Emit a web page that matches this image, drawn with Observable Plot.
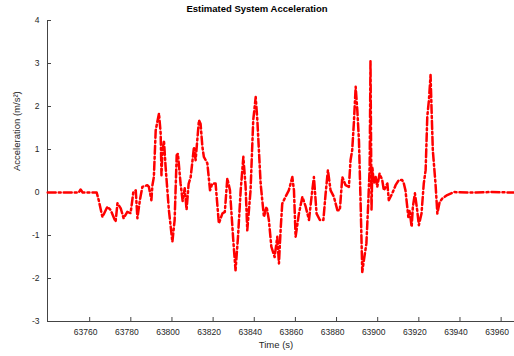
<!DOCTYPE html>
<html><head><meta charset="utf-8">
<script src="https://cdn.jsdelivr.net/npm/d3@7"></script>
<script src="https://cdn.jsdelivr.net/npm/@observablehq/plot@0.6"></script>
<style>
body{margin:0;background:#fff;}
#wrap{position:relative;width:514px;height:356px;}
#title{position:absolute;top:3px;left:0;width:514px;text-align:center;font:bold 9.5px "Liberation Sans",Arial,sans-serif;color:#000;}
</style>
</head><body><div id="wrap"><div id="title"></div></div>
<script>
const title = "Estimated System Acceleration";
const xLabel = "Time (s)";
const yLabel = "Acceleration (m/s²)";
const xDomain = [63739.5, 63966.5];
const yDomain = [-3, 4];
const xTicks = [63760, 63780, 63800, 63820, 63840, 63860, 63880, 63900, 63920, 63940, 63960];
const yTicks = [-3, -2, -1, 0, 1, 2, 3, 4];

const time = [
 63739.6, 63754.7, 63755.6, 63756.6, 63763.4, 63764.4, 63766.2, 63768.6, 63770.2, 63772.6,
 63773.5, 63775.1, 63776.5, 63778.3, 63779.9, 63781.2, 63782.4, 63783.2, 63784.4, 63785.6,
 63788.0, 63788.8, 63790.0, 63790.5, 63791.2, 63792.1, 63793.7, 63794.5, 63794.9, 63795.3,
 63796.1, 63796.9, 63798.5, 63800.2, 63801.3, 63802.3, 63802.9, 63804.2, 63805.2, 63806.2,
 63807.1, 63808.1, 63809.1, 63810.7, 63811.5, 63813.1, 63813.9, 63814.8, 63815.5, 63817.2,
 63818.5, 63819.6, 63821.2, 63822.8, 63824.5, 63825.7, 63826.9, 63828.2, 63829.8, 63830.9,
 63832.1, 63833.4, 63834.7, 63835.8, 63836.6, 63838.2, 63839.5, 63840.7, 63841.5, 63843.1,
 63844.7, 63846.0, 63847.1, 63848.3, 63849.9, 63851.2, 63852.0, 63852.8, 63853.6, 63855.2,
 63856.8, 63858.5, 63859.3, 63860.1, 63861.7, 63863.4, 63865.0, 63866.6, 63868.2, 63869.0,
 63870.3, 63871.9, 63873.6, 63874.7, 63875.8, 63877.1, 63878.7, 63880.4, 63881.6, 63882.8,
 63884.4, 63886.0, 63886.8, 63887.6, 63888.4, 63889.3, 63890.1, 63890.9, 63891.7, 63892.5,
 63893.3, 63894.5, 63895.4, 63896.1, 63896.5, 63897.0, 63897.4, 63898.1, 63899.0, 63899.8,
 63900.9, 63902.2, 63903.0, 63904.7, 63905.4, 63907.1, 63908.7, 63910.3, 63911.9, 63912.7,
 63913.5, 63914.9, 63915.5, 63916.5, 63917.1, 63918.1, 63919.2, 63920.0, 63921.3, 63922.4,
 63923.3, 63924.1, 63924.9, 63925.7, 63926.2, 63926.8, 63928.1, 63929.0, 63930.1, 63931.4,
 63933.8, 63937.0, 63945.1, 63954.9, 63966.0
];
const accel = [
 0, 0, 0.07, 0, 0, -0.18, -0.57, -0.33, -0.41, -0.68,
 -0.25, -0.37, -0.6, -0.45, -0.48, 0, 0.05, -0.6, -0.18, 0.13,
 0.17, 0.13, -0.18, 0.17, 0.36, 1.45, 1.84, 1.38, 0.4, 0.9,
 1.21, 0.6, -0.41, -1.15, -0.64, 0.87, 0.9, 0.2, -0.2, 0.1,
 -0.4, 0.2, 0.36, 1.06, 0.75, 1.68, 1.6, 1.06, 0.83, 0.68,
 0.05, 0.21, 0.21, -0.72, -0.49, -0.45, 0.33, 0.05, -1.11, -1.81,
 -1.03, 0.05, 0.83, 0.13, -0.88, 0.05, 1.68, 2.22, 1.68, 0.21,
 -0.57, -0.33, -0.64, -1.26, -1.5, -1.03, -1.65, -0.88, -0.26, -0.1,
 0.05, 0.36, 0.05, -1.03, -0.49, -0.1, -0.33, -0.64, 0.05, 0.36,
 -0.49, -0.64, -0.64, -0.02, 0.52, 0.05, -0.1, -0.41, -0.41, 0.36,
 0.17, 0.13, 0.75, 0.98, 1.6, 2.46, 1.91, 1.2, -0.25, -1.85,
 -1.57, -1.19, -0.26, 0.6, 3.06, -0.41, 0.6, 0.21, 0.36, 0.13,
 0.44, 0.29, 0.05, 0.21, -0.18, -0.02, 0.17, 0.29, 0.29, 0.21,
 0.05, -0.57, -0.41, -0.8, -0.33, -0.02, -0.41, -0.76, -0.49, 0.21,
 0.52, 1.76, 2.15, 2.73, 1.91, 0.98, 0.21, -0.49, -0.22, -0.14,
 -0.06, 0.01, 0, 0.01, 0
];

document.getElementById("title").textContent = title;
const data = time.map((t, i) => ({t, a: accel[i]}));
const axisColor = "#444";

const chart = Plot.plot({
  width: 514, height: 356,
  marginTop: 20, marginBottom: 35, marginLeft: 47, marginRight: 0,
  style: {fontFamily: "'Liberation Sans', Arial, sans-serif", fontSize: "8.5px", color: "#262626", background: "transparent"},
  x: {domain: xDomain, label: null},
  y: {domain: yDomain, label: null},
  marks: [
    Plot.axisX({ticks: xTicks, tickSize: 0, tickPadding: 7, tickFormat: d => String(d), label: null, dx: -4}),
    Plot.axisX({ticks: xTicks, tickSize: -4, tickFormat: () => "", stroke: axisColor, label: null}),
    Plot.axisY({ticks: yTicks, tickSize: -4, tickPadding: 12, tickFormat: d => String(d), stroke: axisColor, label: null}),
    Plot.ruleX([xDomain[0]], {stroke: axisColor}),
    Plot.ruleY([yDomain[0]], {stroke: axisColor}),
    Plot.line(data, {x: "t", y: "a", stroke: "#ff0000", strokeWidth: 2.5, strokeDasharray: "8,3,2,3"}),
    Plot.text([xLabel], {frameAnchor: "bottom", dy: 26, dx: -5, fontSize: 9.5, fill: "#262626"}),
    Plot.text([yLabel], {frameAnchor: "left", dx: -31, rotate: -90, fontSize: 9.5, fill: "#262626"})
  ]
});
document.getElementById("wrap").appendChild(chart);
</script>
</body></html>
